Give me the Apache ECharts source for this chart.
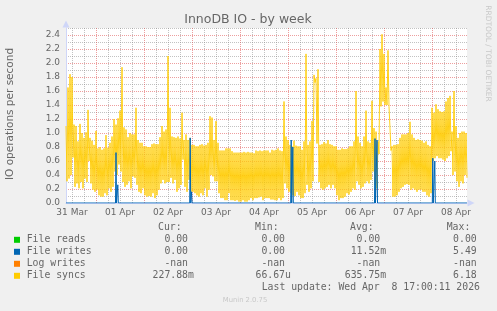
<!DOCTYPE html>
<html><head><meta charset="utf-8">
<script src="https://cdn.jsdelivr.net/npm/echarts@6/dist/echarts.min.js"></script>
<style>html,body{margin:0;padding:0;background:#F0F0F0;}#c{width:497px;height:311px;}</style>
</head><body><div id="c"></div>
<script>
// x axis: hours since 31 Mar 00:00
const dayLabels = ['31 Mar','01 Apr','02 Apr','03 Apr','04 Apr','05 Apr','06 Apr','07 Apr','08 Apr'];
const startHour = 9;      // 31 Mar 09:00
const endHour = 209.5;    // 08 Apr ~17:30
const yTicks = [0,2.5,0.1];

// File syncs: per hour (from start) the high and low of the oscillation
const syncsHigh = [
1.10,1.65,1.84,1.80,1.12,1.10,0.88,1.13,1.00,0.93,
1.01,1.33,0.93,0.89,0.83,1.03,0.78,0.80,0.76,0.78,
0.97,0.79,0.86,0.95,1.20,1.12,1.21,1.32,1.94,1.08,
1.05,0.94,1.00,0.98,0.98,1.36,0.90,0.86,0.86,0.81,
0.81,0.80,0.80,0.84,0.85,0.84,0.84,0.94,1.10,1.02,
1.05,2.10,1.36,0.95,0.94,0.93,0.95,0.92,1.29,0.90,
0.98,0.90,0.93,0.83,0.83,0.81,0.81,0.83,0.84,0.82,
0.83,0.86,1.24,1.22,0.90,1.17,0.86,0.75,0.75,0.75,
0.78,0.78,0.78,0.74,0.72,0.72,0.72,0.72,0.72,0.73,
0.72,0.73,0.72,0.72,0.71,0.75,0.74,0.75,0.74,0.75,
0.75,0.75,0.72,0.76,0.75,0.76,0.78,0.75,0.74,1.45,
0.95,0.90,0.83,0.81,0.89,0.82,0.81,0.81,0.76,0.88,
2.13,0.83,0.88,1.17,1.83,1.78,1.91,0.83,0.84,0.87,
0.85,0.90,0.84,0.83,0.81,0.81,0.76,0.76,0.78,0.77,
0.77,0.78,0.81,0.81,0.88,1.60,0.95,0.86,0.81,0.95,
1.32,0.88,0.86,1.46,1.07,1.02,0.88,2.20,2.41,2.13,
1.65,2.18,1.38,0.81,0.83,0.83,0.84,0.93,0.98,0.98,
0.98,1.00,1.16,0.98,0.93,0.90,0.91,0.90,0.89,0.86,
0.88,0.83,0.81,1.36,1.29,1.41,1.34,1.31,1.30,1.31,
1.45,1.50,1.53,1.02,1.60,1.10,0.93,1.00,1.02,1.02,
1.00];
const syncsLow = [
0.31,0.35,0.40,0.65,0.23,0.28,0.21,0.30,0.21,0.35,
0.30,0.60,0.28,0.19,0.16,0.19,0.11,0.09,0.09,0.14,
0.11,0.21,0.16,0.23,0.45,0.40,0.55,0.45,0.30,0.23,
0.26,0.31,0.21,0.38,0.36,0.26,0.16,0.14,0.21,0.11,
0.09,0.10,0.09,0.14,0.07,0.11,0.19,0.28,0.33,0.28,
0.30,0.30,0.36,0.28,0.33,0.16,0.21,0.26,0.62,0.23,
0.16,0.33,0.16,0.16,0.14,0.11,0.09,0.14,0.11,0.21,
0.09,0.19,0.40,0.38,0.31,0.31,0.14,0.07,0.07,0.04,
0.04,0.14,0.04,0.04,0.03,0.04,0.02,0.02,0.04,0.02,
0.02,0.04,0.07,0.04,0.07,0.07,0.08,0.09,0.04,0.07,
0.07,0.07,0.05,0.05,0.04,0.04,0.07,0.04,0.07,0.28,
0.21,0.16,0.14,0.11,0.10,0.16,0.11,0.07,0.07,0.14,
0.26,0.16,0.21,0.31,1.72,0.85,0.30,0.21,0.19,0.21,
0.23,0.26,0.21,0.26,0.21,0.11,0.04,0.07,0.07,0.09,
0.14,0.12,0.16,0.21,0.19,0.31,0.26,0.21,0.23,0.28,
0.31,0.28,0.33,0.45,0.26,0.21,0.70,1.38,1.45,1.40,
1.40,1.38,0.75,0.09,0.09,0.11,0.16,0.21,0.23,0.26,
0.27,0.26,0.19,0.21,0.19,0.16,0.19,0.19,0.16,0.16,
0.11,0.09,0.14,0.60,0.64,0.67,0.64,0.64,0.62,0.60,
0.64,0.67,0.74,0.40,0.45,0.31,0.23,0.31,0.28,0.40,
0.36];
// File writes: zero except short spikes [hours from start, value]
const writesSpikes = [[25.0,0.72],[25.9,0.26],[62.1,0.93],[62.8,0.16],[112.6,0.90],[113.4,0.80],[154.5,0.92],[155.5,0.90],[183.4,0.64],[184.4,0.60]];

// legend
const legendNames = ['File reads','File writes','Log writes','File syncs'];
const legendColors = ['#00CC00','#0066B3','#FF8000','#FFCC00'];
const curVals = ['0.00','0.00','-nan','227.88m'];
const minVals = ['0.00','0.00','-nan','66.67u'];
const avgVals = ['0.00','11.52m','-nan','635.75m'];
const maxVals = ['0.00','5.49','-nan','6.18'];
const lastUpdate = 'Last update: Wed Apr  8 17:00:11 2026';

const syncsData = [];
for (let i = 0; i < syncsHigh.length; i++) {
  syncsData.push([startHour + i, syncsHigh[i]]);
  syncsData.push([startHour + i + 0.5, syncsLow[i]]);
}
const writesData = [[startHour, 0]];
writesSpikes.forEach(([h, v]) => {
  writesData.push([startHour + h - 0.25, 0], [startHour + h, v], [startHour + h + 0.25, 0]);
});
writesData.push([endHour, 0]);
const readsData = [[startHour, 0], [endHour, 0]];

const GRAY = 'rgba(143,143,143,0.55)';
const RED = 'rgba(222,79,79,0.55)';
const NONE = 'rgba(0,0,0,0)';
const TXT = '#666666';
const MONO = '"DejaVu Sans Mono", monospace';
const SANS = '"DejaVu Sans", sans-serif';

const elements = [];
elements.push({type:'text', x:248, y:20, style:{text:'InnoDB IO - by week', fill:TXT, font:'12.5px ' + SANS, align:'center', verticalAlign:'middle'}});
elements.push({type:'text', x:10, y:114, rotation:Math.PI/2, style:{text:'IO operations per second', fill:TXT, font:'10.5px ' + SANS, align:'center', verticalAlign:'middle'}});
elements.push({type:'text', x:488, y:53.5, rotation:-Math.PI/2, style:{text:'RRDTOOL / TOBI OETIKER', fill:'#c8c8c8', font:'7.5px ' + SANS, align:'center', verticalAlign:'middle'}});
elements.push({type:'text', x:245, y:300, style:{text:'Munin 2.0.75', fill:'#c8c8c8', font:'6.8px ' + SANS, align:'center', verticalAlign:'middle'}});
const mono = '9.8px ' + MONO;
const headers = [['Cur:',158],['Min:',255],['Avg:',350],['Max:',446.7]];
headers.forEach(([t, x]) => elements.push({type:'text', x:x, y:227.5, style:{text:t, fill:TXT, font:mono, align:'left', verticalAlign:'middle'}}));
const cols = [[curVals,188],[minVals,285],[avgVals,380.2],[maxVals,476.7]];
legendNames.forEach((name, i) => {
  const y = 239.8 + i * 12;
  elements.push({type:'rect', shape:{x:14, y:y - 3, width:6, height:6}, style:{fill:legendColors[i]}});
  elements.push({type:'text', x:26.7, y:y, style:{text:name, fill:TXT, font:mono, align:'left', verticalAlign:'middle'}});
  cols.forEach(([arr, xr]) => {
    const m = arr[i].match(/^(.*?)([mu]?)$/);
    elements.push({type:'text', x:xr, y:y, style:{text:m[1], fill:TXT, font:mono, align:'right', verticalAlign:'middle'}});
    if (m[2]) elements.push({type:'text', x:xr, y:y, style:{text:m[2], fill:TXT, font:mono, align:'left', verticalAlign:'middle'}});
  });
});
elements.push({type:'text', x:261.7, y:287.8, style:{text:lastUpdate, fill:TXT, font:mono, align:'left', verticalAlign:'middle'}});

const chart = echarts.init(document.getElementById('c'), null, {renderer:'canvas'});
chart.setOption({
  animation: false,
  backgroundColor: '#F0F0F0',
  grid: {left:66, right:30, top:28, bottom:108, show:true, backgroundColor:'#FFFFFF', borderWidth:0},
  xAxis: {
    type:'value', min:startHour, max:endHour, interval:3,
    axisLine:{show:true, lineStyle:{color:'#CFD6F8', width:1}, symbol:['none','triangle'], symbolSize:[7,7], symbolOffset:[0,4]},
    axisTick:{show:false},
    axisLabel:{color:TXT, fontSize:9, fontFamily:SANS, margin:5,
      formatter:(v) => { const r = ((v % 24) + 24) % 24; return Math.abs(r - 12) < 1e-6 ? dayLabels[Math.floor(v / 24)] : ''; }},
    splitLine:{show:true, showMaxLine:false, lineStyle:{type:[1,1], width:1, color:[NONE,GRAY,NONE,GRAY,NONE,RED,NONE,GRAY]}}
  },
  yAxis: {
    type:'value', min:yTicks[0], max:yTicks[1], interval:yTicks[2],
    axisLine:{show:true, lineStyle:{color:'#CFD6F8', width:1}, symbol:['none','triangle'], symbolSize:[7,7], symbolOffset:[0,4]},
    axisTick:{show:false},
    axisLabel:{color:TXT, fontSize:9, fontFamily:SANS, margin:6,
      formatter:(v) => (Math.round(v * 10) % 2 === 0) ? v.toFixed(1) : ''},
    splitLine:{show:true, lineStyle:{type:[1,1], width:1, color:[RED,GRAY]}}
  },
  series: [
    {name:'File reads', type:'line', data:readsData, symbol:'none', lineStyle:{color:'#00CC00', width:1, opacity:0}, z:2, silent:true},
    {name:'Log writes', type:'line', data:[], symbol:'none', lineStyle:{color:'#FF8000', width:1}, z:2, silent:true},
    {name:'File syncs', type:'line', data:syncsData, symbol:'none', lineStyle:{color:'#FFCC00', width:0.9}, z:3, silent:true},
    {name:'File writes', type:'line', data:writesData, symbol:'none', lineStyle:{color:'#0066B3', width:1}, z:4, silent:true}
  ],
  graphic: {elements: elements}
});
</script></body></html>
